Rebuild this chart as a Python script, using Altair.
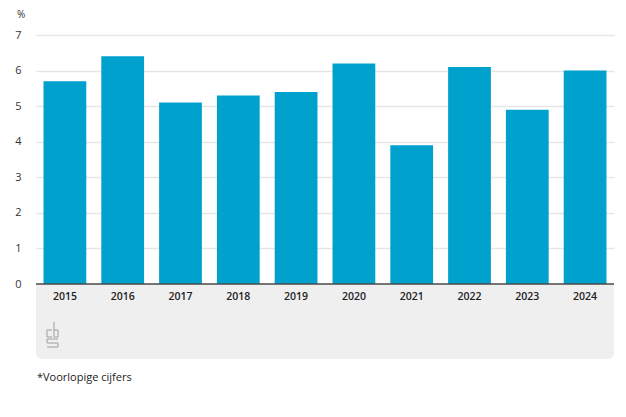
import altair as alt
import pandas as pd

years = ["2015", "2016", "2017", "2018", "2019", "2020", "2021", "2022", "2023", "2024"]
values = [5.7, 6.4, 5.1, 5.3, 5.4, 6.2, 3.9, 6.1, 4.9, 6.0]
y_ticks = [0, 1, 2, 3, 4, 5, 6, 7]
unit_label = "%"
footnote = "*Voorlopige cijfers"

# decorative CBS logo segments (pixel coords inside chart)
logo_x1 = [11, 11, 11, 18, 18, 22, 18, 11, 11, 11, 22, 11]
logo_y1 = [295, 295, 302, 287, 295, 295, 302, 304, 304, 308, 308, 312]
logo_x2 = [16, 11, 16, 18, 22, 22, 22, 22, 11, 22, 22, 22]
logo_y2 = [295, 302, 302, 302, 295, 302, 302, 304, 308, 308, 312, 312]

W, H = 578, 249
FONT = "Open Sans"
BAR_COLOR = "#00a1cd"

df = pd.DataFrame({"year": years, "value": values})
one = pd.DataFrame({"zero": [0]})
logo_df = pd.DataFrame({"x1": logo_x1, "y1": logo_y1, "x2": logo_x2, "y2": logo_y2})

xscale = alt.Scale(paddingInner=0.26, paddingOuter=0.13)
yscale = alt.Scale(domain=[0, 7], nice=False)
yaxis = alt.Axis(
    values=y_ticks, grid=True, ticks=False, domain=False, labelPadding=15,
    title=None, gridColor="#e6e6e6", gridWidth=1.5, labelFont=FONT,
    labelFontSize=11, labelColor="#333333",
)

panel = alt.Chart(one).mark_rect(
    color="#efefef", cornerRadiusBottomLeft=6, cornerRadiusBottomRight=6
).encode(x=alt.value(0), x2=alt.value(W), y=alt.value(H), y2=alt.value(H + 75))

bars = alt.Chart(df).mark_bar(color=BAR_COLOR).encode(
    x=alt.X("year:N", scale=xscale, axis=None, sort=years),
    y=alt.Y("value:Q", scale=yscale, axis=yaxis),
)

xlabels = alt.Chart(df).mark_text(
    font=FONT, fontSize=10.5, fontWeight=600, color="#222222", baseline="middle"
).encode(
    x=alt.X("year:N", scale=xscale, axis=None, sort=years),
    y=alt.value(H + 13),
    text="year:N",
)

baseline = alt.Chart(one).mark_rule(color="#4a4a4a", strokeWidth=1.5).encode(
    y=alt.Y("zero:Q", scale=yscale, axis=yaxis), x=alt.value(0), x2=alt.value(W)
)

logo = alt.Chart(logo_df).mark_rule(color="#b0b0b0", strokeWidth=1.3).encode(
    x=alt.X("x1:Q", scale=None), y=alt.Y("y1:Q", scale=None),
    x2="x2:Q", y2="y2:Q",
)

unit = alt.Chart(one).mark_text(
    text=unit_label, font=FONT, fontSize=10, color="#333333", align="left", baseline="middle"
).encode(x=alt.value(-19), y=alt.value(-20))

note = alt.Chart(one).mark_text(
    text=footnote, font=FONT, fontSize=11, color="#222222", align="left", baseline="middle"
).encode(x=alt.value(1), y=alt.value(343))

chart = alt.layer(panel, bars, xlabels, baseline, logo, unit, note).properties(
    width=W, height=H,
    autosize=alt.AutoSizeParams(type="none"),
    padding={"left": 28, "top": 27, "right": 4, "bottom": 120},
).configure_view(stroke=None)

chart.save("out.html", embed_options={"renderer": "svg", "actions": False})
